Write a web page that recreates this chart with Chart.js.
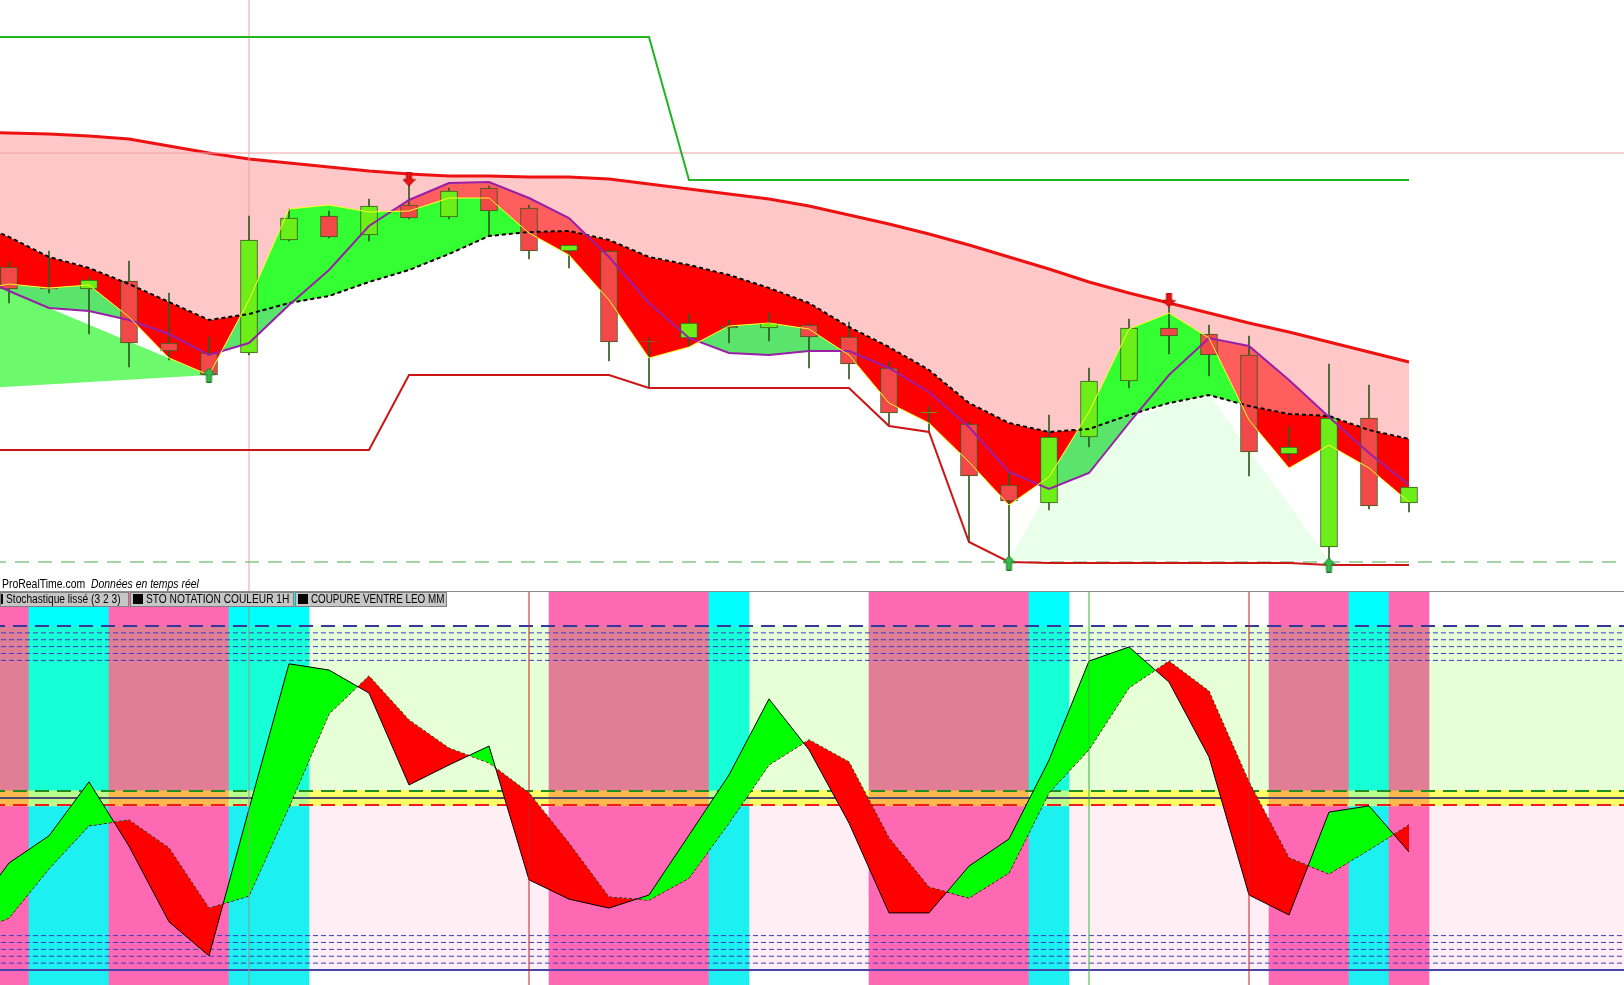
<!DOCTYPE html>
<html>
<head>
<meta charset="utf-8">
<script src="https://cdn.jsdelivr.net/npm/chart.js@4.4.0/dist/chart.umd.min.js"></script>
<style>
  html, body { margin: 0; padding: 0; background: #fff; overflow: hidden; }
  #wrap { position: relative; width: 1624px; height: 985px; font-family: "Liberation Sans", Arial, sans-serif; }
  #priceChart { position: absolute; left: 0; top: 0; }
  #stoChart { position: absolute; left: 0; top: 592px; }
  #sep { position: absolute; left: 0; top: 591px; width: 1624px; height: 1px; background: #8c8c8c; }
  #brand { position: absolute; left: 2px; top: 577px; font-size: 12px; color: #000; white-space: nowrap;
           transform: scaleX(0.87); transform-origin: 0 50%; }
  .it { position: absolute; top: 592px; height: 15px; box-sizing: border-box; background: #c6c6c6;
        border: 1px solid #808080; font-size: 12px; line-height: 13px; white-space: nowrap; color: #000; overflow: hidden; }
  .sq { display: inline-block; width: 10px; height: 10px; background: #000; margin: 0 3px 0 2px; vertical-align: -1px; }
  .t { display: inline-block; transform: scaleX(0.85); transform-origin: 0 50%; }
</style>
</head>
<body>
<div id="wrap">
  <canvas id="priceChart" width="1624" height="591"></canvas>
  <canvas id="stoChart" width="1624" height="393"></canvas>
  <div id="sep"></div>
  <div id="brand">ProRealTime.com&nbsp; <i>Données en temps réel</i></div>
  <div class="it" style="left:0;width:129px;"><span class="sq" style="width:2px;margin:0 3px 0 0;"></span><span class="t">Stochastique lissé (3 2 3)</span></div>
  <div class="it" style="left:130px;width:164px;"><span class="sq"></span><span class="t">STO NOTATION COULEUR 1H</span></div>
  <div class="it" style="left:295px;width:152px;"><span class="sq"></span><span class="t" style="transform:scaleX(0.82);">COUPURE VENTRE LEO MM</span></div>
</div>
<script>
// bars 0..35, lines start one bar earlier (-1) so they reach the left edge
const barIdx = [];
for (let i = 0; i <= 35; i++) barIdx.push(i);
const lineIdx = [-1].concat(barIdx);

const candleOpen  = [7324,7303,7302,7310,7248,7238,7238,7351,7375,7356,7386,7374,7403,7383,7340,7340,7250,7253,7265,7263,7266,7254,7223,7178,7167,7106,7088,7154,7210,7263,7257,7236,7137,7044,7173,7088];
const candleHigh  = [7329,7340,7314,7330,7298,7254,7375,7382,7380,7392,7406,7403,7405,7386,7346,7341,7253,7277,7271,7278,7268,7269,7229,7184,7169,7118,7176,7223,7272,7284,7266,7255,7164,7227,7206,7104];
const candleLow   = [7288,7298,7257,7224,7231,7215,7236,7350,7353,7350,7372,7372,7356,7332,7323,7230,7203,7244,7248,7250,7223,7212,7166,7158,7049,7033,7081,7144,7203,7237,7215,7115,7131,7031,7082,7079];
const candleClose = [7302,7302,7311,7248,7240,7216,7351,7373,7354,7385,7373,7400,7380,7340,7346,7249,7249,7268,7263,7268,7254,7227,7178,7179,7115,7090,7154,7210,7263,7255,7236,7139,7144,7173,7085,7104];

const upperBand = [7459,7458,7457,7455,7452,7445,7438,7432,7428,7424,7420,7417,7415,7415,7414,7414,7412,7407,7402,7397,7392,7385,7376,7367,7357,7346,7334,7322,7309,7298,7288,7278,7268,7259,7249,7239,7229];
const slowMA    = [7371,7354,7334,7323,7307,7289,7271,7277,7288,7295,7309,7321,7337,7355,7359,7360,7351,7334,7326,7316,7303,7288,7264,7244,7221,7188,7168,7159,7162,7176,7188,7196,7185,7177,7175,7161,7152];
const fastMA    = [7300,7307,7303,7306,7274,7233,7216,7291,7382,7386,7379,7380,7393,7393,7358,7336,7291,7233,7244,7265,7268,7262,7236,7188,7168,7129,7086,7114,7179,7262,7278,7253,7171,7123,7146,7123,7089];
const midMA     = [7318,7300,7283,7280,7271,7257,7236,7248,7286,7321,7365,7391,7408,7409,7393,7373,7334,7288,7253,7238,7236,7240,7240,7223,7199,7164,7119,7102,7118,7168,7216,7253,7245,7211,7174,7138,7106];
const resistance = [7554,7554,7554,7554,7554,7554,7554,7554,7554,7554,7554,7554,7554,7554,7554,7554,7554,7554,7411,7411,7411,7411,7411,7411,7411,7411,7411,7411,7411,7411,7411,7411,7411,7411,7411,7411,7411];
const support    = [7141,7141,7141,7141,7141,7141,7141,7141,7141,7141,7141,7216,7216,7216,7216,7216,7216,7203,7203,7203,7203,7203,7203,7165,7159,7049,7029,7028,7028,7028,7028,7028,7028,7028,7026,7026,7026];

const leftGlowIdx = [-1, 1, 5];
const leftGlowTop = [7317, 7283, 7216];
const leftGlowBaseIdx = [-1, 5];
const leftGlowBase = [7202, 7216];
const rightGlowIdx = [25, 26, 27, 28, 29, 30, 33];
const rightGlowTop = [7031, 7102, 7118, 7168, 7188, 7196, 7031];
const rightGlowBase = 7031;

const sellIdx = [10, 29];
const sellPrice = [7412, 7291];
const buyIdx = [5, 25, 33];
const buyPrice = [7216, 7028, 7026];

const floorLevel = 7029;
const cursorIdx = 6;
const cursorPrice = 7438;

// stochastic panel
const stoK = [15.4,31.1,39.0,54.7,36.0,14.0,4.1,46.8,89.0,87.2,80.5,53.8,59.6,65.1,26.2,20.6,18.0,21.8,39.2,56.7,78.8,64.0,42.7,16.6,16.6,30.2,38.1,61.0,89.8,93.9,83.7,61.9,21.8,16.0,45.9,47.7,34.3];
const stoD = [10.5,15.1,29.4,41.9,43.6,35.5,18.0,21.5,47.4,74.4,85.5,72.7,64.5,60.2,51.5,36.9,21.2,20.3,26.7,42.7,59.6,66.9,60.5,38.4,24.1,20.9,28.2,51.5,64.0,82.0,89.8,81.1,54.7,32.6,27.9,34.9,42.2];
// 0 none, 1 pink, 2 cyan
const bandState = [1,2,2,1,1,1,2,2,0,0,0,0,0,0,1,1,1,1,2,0,0,0,1,1,1,1,2,0,0,0,0,0,1,1,2,1];
const minorLevels = [90, 92, 94, 96, 98, 2, 4, 6, 8, 10];
const redMarks = [13, 31];
const greenMarks = [27];

const xMin = -0.225, xMax = 40.375;

const pts = (xs, ys) => xs.map((x, i) => ({x: x, y: ys[i]}));
const flat = (y) => [{x: -1, y: y}, {x: 41, y: y}];
const vert = (x, lo, hi) => [{x: x, y: lo}, {x: x, y: hi}];
const clear = 'rgba(0,0,0,0)';

function arrowImage(up, fill, edge) {
    const c = document.createElement('canvas');
    c.width = 13; c.height = 15;
    const g = c.getContext('2d');
    g.beginPath();
    if (up) {
        g.moveTo(6.5, 0.5); g.lineTo(12.5, 7); g.lineTo(9, 7); g.lineTo(9, 14.5);
        g.lineTo(4, 14.5); g.lineTo(4, 7); g.lineTo(0.5, 7);
    } else {
        g.moveTo(6.5, 14.5); g.lineTo(12.5, 8); g.lineTo(9, 8); g.lineTo(9, 0.5);
        g.lineTo(4, 0.5); g.lineTo(4, 8); g.lineTo(0.5, 8);
    }
    g.closePath();
    g.fillStyle = fill; g.fill();
    g.strokeStyle = edge; g.lineWidth = 1; g.stroke();
    return c;
}

function line(data, color, width, extra) {
    return Object.assign({
        type: 'line', data: data, borderColor: color, borderWidth: width,
        pointRadius: 0, tension: 0, fill: false
    }, extra || {});
}

// ---------- price panel ----------
const priceSets = [];
const add = (arr, ds) => { arr.push(ds); return arr.length - 1; };

const slowIdx = add(priceSets, line(pts(lineIdx, slowMA), '#000', 2, {borderDash: [4, 3], order: 3}));
const midIdx = add(priceSets, line(pts(lineIdx, midMA), '#9a1fa8', 2, {order: 2}));
add(priceSets, line(pts(lineIdx, upperBand), '#ee1111', 3, {
    fill: {target: slowIdx, above: '#ffc8c8', below: '#ffc8c8'}, order: 20}));
const leftBaseIdx = add(priceSets, line(pts(leftGlowBaseIdx, leftGlowBase), clear, 0, {order: 19}));
add(priceSets, line(pts(leftGlowIdx, leftGlowTop), clear, 0, {
    fill: {target: leftBaseIdx, above: '#6cfa6c', below: '#6cfa6c'}, order: 18}));
add(priceSets, line(pts(rightGlowIdx, rightGlowTop), clear, 0, {
    fill: {value: rightGlowBase, above: '#eaffea', below: '#eaffea'}, order: 18}));
add(priceSets, line(pts(lineIdx, fastMA), clear, 0, {
    fill: {target: midIdx, above: '#5be46b', below: '#ff5e5e'}, order: 15}));
add(priceSets, line(pts(lineIdx, fastMA), '#ffff20', 1, {
    fill: {target: slowIdx, above: '#33ff33', below: '#ff0000'}, order: 1}));
add(priceSets, line(pts(lineIdx, resistance), '#22b422', 2, {order: 6}));
add(priceSets, line(pts(lineIdx, support), '#cc1515', 2, {order: 6}));
add(priceSets, line(flat(floorLevel), '#4aa84a', 1, {borderDash: [14, 9], order: 7}));
add(priceSets, line(flat(cursorPrice), '#eba0aa', 1, {order: 10}));
add(priceSets, line(vert(cursorIdx, 6990, 7600), '#eba0aa', 1, {order: 10}));

const upColor = '#6cef18', downColor = '#f24848';
const candleColors = barIdx.map(i => candleClose[i] >= candleOpen[i] ? upColor : downColor);
add(priceSets, {
    type: 'bar', data: barIdx.map(i => ({x: i, y: [candleLow[i], candleHigh[i]]})),
    backgroundColor: '#2f5a1f', borderWidth: 0, maxBarThickness: 1,
    grouped: false, barPercentage: 1, categoryPercentage: 1, order: 9
});
add(priceSets, {
    type: 'bar', data: barIdx.map(i => ({x: i, y: [candleOpen[i], candleClose[i]]})),
    backgroundColor: candleColors, borderColor: '#3b5a1c', borderWidth: 1, borderSkipped: false,
    maxBarThickness: 17, grouped: false, barPercentage: 1, categoryPercentage: 1, order: 8
});
add(priceSets, {
    type: 'line', data: pts(sellIdx, sellPrice), showLine: false,
    pointStyle: arrowImage(false, '#ee1111', '#a00000'), pointRadius: 7, order: 0
});
add(priceSets, {
    type: 'line', data: pts(buyIdx, buyPrice), showLine: false,
    pointStyle: arrowImage(true, '#35bb48', '#1c7a2c'), pointRadius: 7, order: 0
});

const hidden = {display: false};
new Chart(document.getElementById('priceChart').getContext('2d'), {
    data: {datasets: priceSets},
    options: {
        responsive: false, animation: false, events: [],
        layout: {padding: 0, autoPadding: false},
        scales: {
            x: {type: 'linear', min: xMin, max: xMax, offset: false, display: false},
            y: {type: 'linear', min: 7000, max: 7591, display: false}
        },
        plugins: {legend: hidden, tooltip: {enabled: false}, filler: {drawTime: 'beforeDatasetsDraw'}}
    }
});

// ---------- stochastic panel ----------
const stoSets = [];
add(stoSets, line(flat(100), clear, 0, {fill: {value: 52.3, above: '#e6ffd6', below: '#e6ffd6'}, order: 50}));
add(stoSets, line(flat(52.3), clear, 0, {fill: {value: 47.7, above: '#ffff66', below: '#ffff66'}, order: 50}));
add(stoSets, line(flat(47.7), clear, 0, {fill: {value: 0, above: '#ffeef4', below: '#ffeef4'}, order: 50}));

const bandSegments = [
    {lo: 100, hi: 112, colors: ['', '#ff69b4', '#00ffff']},
    {lo: 52.3, hi: 100, colors: ['', '#e07e96', '#16ffd6']},
    {lo: 47.7, hi: 52.3, colors: ['', '#ffb84d', '#b8ff8c']},
    {lo: -6, hi: 47.7, colors: ['', '#ff69b4', '#1cf0f0']}
];
const bandBars = barIdx.filter(i => bandState[i] > 0);
bandSegments.forEach(seg => {
    add(stoSets, {
        type: 'bar', data: bandBars.map(i => ({x: i, y: [seg.lo, seg.hi]})),
        backgroundColor: bandBars.map(i => seg.colors[bandState[i]]),
        borderWidth: 0, grouped: false, barPercentage: 1, categoryPercentage: 1, order: 40
    });
});

minorLevels.forEach(v => add(stoSets, line(flat(v), '#3c3cc4', 1, {borderDash: [5, 3], order: 30})));
add(stoSets, line(flat(100), '#37379e', 2, {borderDash: [14, 8], order: 30}));
add(stoSets, line(flat(52), '#1f8f1f', 2, {borderDash: [14, 8], order: 30}));
add(stoSets, line(flat(50), '#4b4b6e', 2, {order: 30}));
add(stoSets, line(flat(48), '#ee1c1c', 2, {borderDash: [14, 8], order: 30}));
add(stoSets, line(flat(0), '#4646aa', 2, {order: 30}));

const dIdx = add(stoSets, line(pts(lineIdx, stoD), '#000', 1, {borderDash: [3, 2], order: 3}));
add(stoSets, line(pts(lineIdx, stoK), '#000', 1, {
    fill: {target: dIdx, above: '#00ff00', below: '#ff0000'}, order: 2}));

add(stoSets, line(vert(cursorIdx, -10, 120), '#8c9c8c', 1, {order: 1}));
redMarks.forEach(x => add(stoSets, line(vert(x, -10, 120), '#c81e1e', 1, {order: 1})));
greenMarks.forEach(x => add(stoSets, line(vert(x, -10, 120), '#3cb43c', 1, {order: 1})));

new Chart(document.getElementById('stoChart').getContext('2d'), {
    data: {datasets: stoSets},
    options: {
        responsive: false, animation: false, events: [],
        layout: {padding: 0, autoPadding: false},
        scales: {
            x: {type: 'linear', min: xMin, max: xMax, offset: false, display: false},
            y: {type: 'linear', min: -4.36, max: 109.88, display: false}
        },
        plugins: {legend: hidden, tooltip: {enabled: false}}
    }
});
</script>
</body>
</html>
